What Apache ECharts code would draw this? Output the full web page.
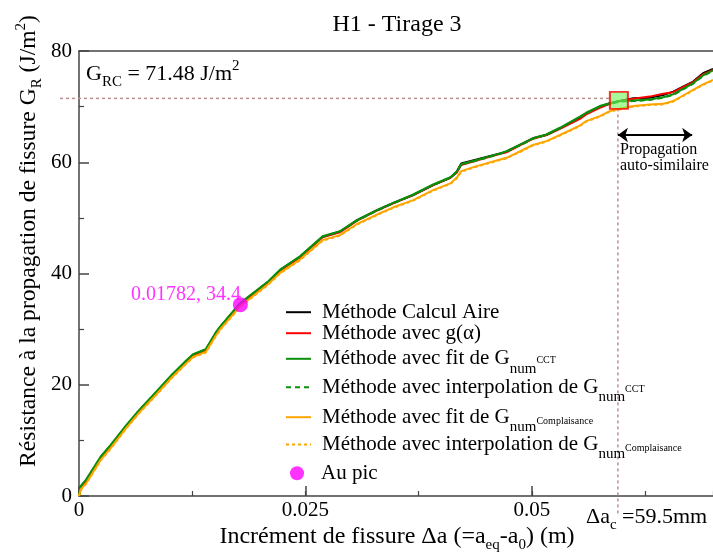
<!DOCTYPE html>
<html><head><meta charset="utf-8">
<script src="https://cdn.jsdelivr.net/npm/echarts@6/dist/echarts.min.js"></script>
<style>html,body{margin:0;padding:0;background:#fff}#c{width:713px;height:552px}</style>
</head><body><div id="c"></div>
<script>
const FONT = 'Liberation Serif';

// crack increment Δa (m)
const xs = [0, 0.0002, 0.0008, 0.0024, 0.0035, 0.0052, 0.0066, 0.0085, 0.0103, 0.0118, 0.0126, 0.014, 0.0151, 0.0156, 0.0178, 0.0209, 0.0222, 0.0244, 0.0269, 0.0288, 0.0307, 0.0329, 0.0347, 0.0369, 0.0391, 0.041, 0.0417, 0.0422, 0.0439, 0.0465, 0.0472, 0.049, 0.0501, 0.0516, 0.0531, 0.0553, 0.056, 0.0575, 0.0586, 0.0597, 0.0612, 0.063, 0.0645, 0.0656, 0.0667, 0.0678, 0.0689, 0.07];
const calculAire = [0, 1.5, 2.6, 6.8, 8.9, 12.5, 15.2, 18.5, 21.8, 24.1, 25.4, 26.3, 29.3, 30.4, 34.6, 38.5, 40.6, 43.0, 46.6, 47.5, 49.6, 51.4, 52.7, 54.1, 55.9, 57.2, 58.3, 59.8, 60.5, 61.6, 61.9, 63.4, 64.3, 64.9, 66.1, 67.9, 68.8, 70.0, 70.6, 71.0, 71.5, 71.6, 72.1, 72.7, 73.6, 74.5, 76.0, 76.8];
const gAlpha = [0, 1.4, 2.6, 6.7, 8.8, 12.4, 15.1, 18.4, 21.6, 24.0, 25.3, 26.2, 29.1, 30.3, 34.5, 38.4, 40.5, 42.9, 46.5, 47.4, 49.5, 51.3, 52.6, 54.1, 55.9, 57.2, 58.1, 59.5, 60.3, 61.5, 61.8, 63.3, 64.2, 64.9, 66.0, 67.8, 68.6, 69.8, 70.5, 71.0, 71.4, 71.8, 72.3, 72.6, 73.5, 74.4, 75.8, 76.6];
const fitCCT = [0, 1.8, 3.0, 7.1, 9.2, 12.7, 15.4, 18.7, 21.9, 24.3, 25.5, 26.4, 29.4, 30.5, 34.7, 38.6, 40.7, 43.1, 46.7, 47.6, 49.6, 51.4, 52.7, 54.2, 56.0, 57.3, 58.3, 59.7, 60.4, 61.6, 62.0, 63.4, 64.3, 65.0, 66.2, 68.2, 68.9, 70.1, 70.6, 71.0, 71.1, 71.3, 71.7, 72.2, 73.2, 74.2, 75.6, 76.5];
const interpCCT = [0, 1.7, 2.9, 7.0, 9.1, 12.6, 15.3, 18.6, 21.8, 24.2, 25.4, 26.3, 29.3, 30.4, 34.6, 38.5, 40.6, 43.0, 46.6, 47.5, 49.5, 51.3, 52.6, 54.1, 55.9, 57.2, 58.2, 59.6, 60.3, 61.5, 61.9, 63.3, 64.2, 64.9, 66.1, 68.1, 68.8, 70.0, 70.5, 70.9, 71.0, 71.2, 71.6, 72.1, 73.1, 74.1, 75.5, 76.4];
const fitCompl = [0, 1.2, 2.3, 6.5, 8.6, 12.2, 14.9, 18.2, 21.4, 23.8, 25.0, 25.9, 28.8, 30.0, 34.1, 38.1, 40.1, 42.5, 46.0, 46.9, 48.9, 50.6, 51.9, 53.2, 55.0, 56.2, 57.2, 58.4, 59.3, 60.5, 60.8, 62.2, 63.1, 63.8, 64.9, 66.6, 67.4, 68.3, 69.2, 69.6, 70.1, 70.4, 70.5, 71.0, 72.0, 73.0, 74.0, 74.8];
const interpCompl = [0, 1.1, 2.2, 6.4, 8.5, 12.1, 14.8, 18.1, 21.3, 23.7, 24.9, 25.8, 28.7, 29.9, 34.0, 38.0, 40.0, 42.4, 45.9, 46.8, 48.8, 50.5, 51.8, 53.1, 54.9, 56.1, 57.1, 58.3, 59.2, 60.4, 60.7, 62.1, 63.0, 63.7, 64.8, 66.5, 67.3, 68.2, 69.1, 69.5, 70.0, 70.3, 70.4, 70.9, 71.9, 72.9, 73.9, 74.7];

const peakX = 0.01782, peakY = 34.4;
const GRC = 71.48;       // J/m2
const DAC = 0.0595;      // m
const arrowY = 64.9, arrowX2 = 0.0677;

const xTickLabels = {0: '0', 0.025: '0.025', 0.05: '0.05'};
const yTickLabels = {0: '0', 20: '20', 40: '40', 60: '60', 80: '80'};

const names = ['Méthode Calcul Aire', 'Méthode avec g(α)', 'Méthode avec fit de G num CCT',
  'Méthode avec interpolation de G num CCT', 'Méthode avec fit de G num Complaisance',
  'Méthode avec interpolation de G num Complaisance', 'Au pic'];
const legendRich = {
  [names[0]]: '{t|Méthode Calcul Aire}',
  [names[1]]: '{t|Méthode avec g(α)}',
  [names[2]]: '{t|Méthode avec fit de G}{n|num}{c|CCT}',
  [names[3]]: '{t|Méthode avec interpolation de G}{n|num}{c|CCT}',
  [names[4]]: '{t|Méthode avec fit de G}{n|num}{k|Complaisance}',
  [names[5]]: '{t|Méthode avec interpolation de G}{n|num}{k|Complaisance}',
  [names[6]]: '{u|Au pic}'
};
const legendCenters = [321.7, 342.7, 368.3, 396.7, 426.7, 454, 482.7];

const colors = ['#000000', '#ff0000', '#0a8f0a', '#0a8f0a', '#ffa500', '#ffa500'];
const dash = ['solid', 'solid', 'solid', [5, 4], 'solid', [3, 3]];
const ys = [calculAire, gAlpha, fitCCT, interpCCT, fitCompl, interpCompl];

const axisColor = '#444';
const chart = echarts.init(document.getElementById('c'), null, {renderer: 'canvas'});

const lineSeries = ys.map((arr, k) => ({
  type: 'line', name: names[k], showSymbol: false, symbol: 'none',
  data: xs.map((x, i) => [x, arr[i]]),
  lineStyle: {color: colors[k], width: 2, type: dash[k]},
  itemStyle: {color: colors[k]},
  z: 2 + k
}));

const legRichStyles = {
  t: {fontFamily: FONT, fontSize: 21, color: '#000', lineHeight: 40, padding: [0, 0, 0, 6]},
  u: {fontFamily: FONT, fontSize: 21, color: '#000', lineHeight: 40, padding: [0, 0, 0, 12]},
  n: {fontFamily: FONT, fontSize: 15, color: '#000', padding: [20, 0, 0, 0]},
  c: {fontFamily: FONT, fontSize: 10, color: '#000', padding: [4, 0, 0, 0]},
  k: {fontFamily: FONT, fontSize: 10, color: '#000', padding: [8, 0, 0, 0]}
};

const legends = names.map((nm, k) => ({
  data: [nm], orient: 'vertical', left: k === 6 ? 290 : 285, top: legendCenters[k] - 20, padding: 0,
  itemWidth: k === 6 ? 14 : 25, itemHeight: 14, selectedMode: false,
  itemStyle: k === 6 ? {} : {opacity: 0},
  formatter: n => legendRich[n],
  textStyle: {fontFamily: FONT, fontSize: 21, color: '#000', rich: legRichStyles}
}));

const xBase = {type: 'value', min: 0, max: 0.07, splitLine: {show: false}};
const option = {
  animation: false,
  backgroundColor: '#fff',
  grid: {left: 79, top: 51, right: 0, bottom: 56, containLabel: false},
  legend: legends,
  xAxis: [{
    ...xBase, interval: 0.025,
    axisLine: {show: true, onZero: false, lineStyle: {color: axisColor, width: 1.5}},
    axisTick: {show: true, inside: true, length: 10, lineStyle: {color: axisColor, width: 1.5}},
    axisLabel: {fontFamily: FONT, fontSize: 21, color: '#000', margin: 4, showMaxLabel: false,
      formatter: v => (xTickLabels[v] !== undefined ? xTickLabels[v] : '')}
  }, {
    ...xBase, position: 'top',
    axisLine: {show: true, onZero: false, lineStyle: {color: axisColor, width: 1.5}},
    axisTick: {show: false}, axisLabel: {show: false}
  }, {
    ...xBase, position: 'bottom', interval: 0.0125,
    axisLine: {show: false},
    axisTick: {show: true, inside: true, length: 5, lineStyle: {color: axisColor, width: 1.2}},
    axisLabel: {show: false}
  }],
  yAxis: [{
    type: 'value', min: 0, max: 80, interval: 20,
    axisLine: {show: true, onZero: false, lineStyle: {color: axisColor, width: 1.5}},
    axisTick: {show: true, inside: true, length: 10, lineStyle: {color: axisColor, width: 1.5}},
    minorTick: {show: true, splitNumber: 2, length: 5, lineStyle: {color: axisColor, width: 1.2}},
    axisLabel: {fontFamily: FONT, fontSize: 21, color: '#000', margin: 7,
      formatter: v => (yTickLabels[v] !== undefined ? yTickLabels[v] : '')},
    splitLine: {show: false}
  }],
  series: [
    ...lineSeries,
    {
      type: 'scatter', name: 'square', data: [[DAC, GRC]], symbol: 'rect', symbolSize: [18, 17],
      symbolOffset: [1, 2], silent: true,
      itemStyle: {color: 'rgba(110,245,90,0.75)', borderColor: '#ff0000', borderWidth: 2},
      z: 20,
      markLine: {
        silent: true, symbol: ['arrow', 'arrow'], symbolSize: [11, 10],
        lineStyle: {color: '#000', width: 2, type: 'solid'}, label: {show: false},
        data: [[{coord: [DAC, arrowY]}, {coord: [arrowX2, arrowY]}]]
      }
    },
    {
      type: 'scatter', name: names[6], data: [[peakX, peakY]], symbol: 'circle', symbolSize: 15,
      itemStyle: {color: '#ff00ff'}, z: 21,
      label: {show: true, position: 'left', offset: [13, -10], formatter: () => peakX + ', ' + peakY,
        fontFamily: FONT, fontSize: 20, color: '#ff00ff'}
    }
  ]
};
chart.setOption(option);

const [sx, sy] = chart.convertToPixel({gridIndex: 0}, [DAC, GRC]);
const guide = '#bc8f8f';
const rich = (size, color) => ({
  g: {fontFamily: FONT, fontSize: size, color},
  s: {fontFamily: FONT, fontSize: 15, color, padding: [16, 0, 0, 0]},
  p: {fontFamily: FONT, fontSize: 15, color, padding: [0, 0, 15, 0]}
});
chart.setOption({
  graphic: [
    {type: 'line', silent: true, z: 1, shape: {x1: 60, y1: sy, x2: sx - 9, y2: sy},
      style: {stroke: guide, lineWidth: 1.5, lineDash: [3, 3]}},
    {type: 'line', silent: true, z: 1, shape: {x1: sx, y1: sy + 10, x2: sx, y2: 514},
      style: {stroke: guide, lineWidth: 1.5, lineDash: [3, 3]}},
    {type: 'text', x: 397, y: 25, style: {text: 'H1 - Tirage 3', font: '24px "Liberation Serif"', fill: '#000',
      align: 'center', verticalAlign: 'middle', textAlign: 'center', textVerticalAlign: 'middle'}},
    {type: 'text', x: 86, y: 74, style: {text: '{g|G}{s|RC}{g| = 71.48 J/m}{p|2}', rich: rich(22, '#ff0000'),
      align: 'left', verticalAlign: 'middle', textAlign: 'left', textVerticalAlign: 'middle'}},
    {type: 'text', x: 586, y: 517, style: {text: '{g|Δa}{s|c}{g| =59.5mm}', rich: rich(22, '#ff0000'),
      align: 'left', verticalAlign: 'middle', textAlign: 'left', textVerticalAlign: 'middle'}},
    {type: 'text', x: 397, y: 537, style: {text: '{g|Incrément de fissure Δa (=a}{s|eq}{g|-a}{s|0}{g|) (m)}', rich: rich(24, '#000'),
      align: 'center', verticalAlign: 'middle', textAlign: 'center', textVerticalAlign: 'middle'}},
    {type: 'text', x: 29, y: 467, rotation: Math.PI / 2,
      style: {text: '{g|Résistance à la propagation de fissure G}{s|R}{g| (J/m}{p|2}{g|)}', rich: rich(23.6, '#000'),
      align: 'left', verticalAlign: 'middle', textAlign: 'left', textVerticalAlign: 'middle'}},
    {type: 'text', x: 620, y: 150, style: {text: 'Propagation', font: '16px "Liberation Serif"', fill: '#000',
      align: 'left', verticalAlign: 'middle', textAlign: 'left', textVerticalAlign: 'middle'}},
    {type: 'text', x: 620, y: 166, style: {text: 'auto-similaire', font: '16px "Liberation Serif"', fill: '#000',
      align: 'left', verticalAlign: 'middle', textAlign: 'left', textVerticalAlign: 'middle'}}
  ]
});
</script></body></html>
